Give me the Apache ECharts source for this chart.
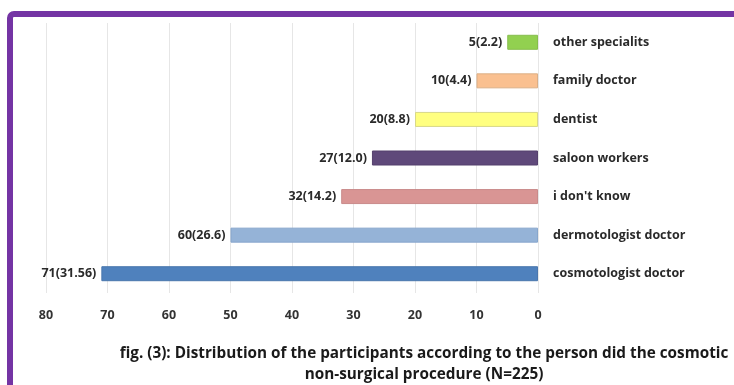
<!DOCTYPE html>
<html>
<head>
<meta charset="utf-8">
<script src="https://cdn.jsdelivr.net/npm/echarts@6/dist/echarts.min.js"></script>
<style>
  html, body { margin: 0; padding: 0; background: #fff; }
  #chart { width: 734px; height: 385px; }
</style>
</head>
<body>
<div id="chart"></div>
<script>
// bottom to top
const categories = ["cosmotologist doctor", "dermotologist doctor", "i don't know", "saloon workers", "dentist", "family doctor", "other specialits"];
const barValues = [71, 50, 32, 27, 20, 10, 5];
const barLabels = ["71(31.56)", "60(26.6)", "32(14.2)", "27(12.0)", "20(8.8)", "10(4.4)", "5(2.2)"];
const barColors = ["#4f81bd", "#95b3d7", "#d99594", "#5f497a", "#ffff80", "#fac090", "#92d050"];
const borderColors = ["#4a76ad", "#87a6cc", "#c98a8a", "#54406d", "#d8d88a", "#dbae85", "#86bd4d"];
const titleLines = [
  "fig. (3): Distribution of the participants according to the person did the cosmotic",
  "non-surgical procedure (N=225)"
];

const chart = echarts.init(document.getElementById("chart"));

const font = "'Open Sans', Lato, sans-serif";

const option = {
  animation: false,
  backgroundColor: "#fff",
  grid: { left: 46, right: 196, top: 23, bottom: 92 },
  title: {
    text: titleLines.join("\n"),
    left: 419,
    textAlign: "center",
    top: 338,
    textStyle: { fontFamily: font, fontSize: 15.3, fontWeight: "bold", color: "#1a1a1a", lineHeight: 21 }
  },
  graphic: [
    {
      type: "rect",
      shape: { x: 10, y: 14, width: 800, height: 500, r: 4 },
      style: { fill: "none", stroke: "#7434a4", lineWidth: 6 },
      z: 10
    }
  ],
  xAxis: {
    type: "value",
    inverse: true,
    min: 0,
    max: 80,
    interval: 10,
    axisLine: { show: false },
    axisTick: { show: false },
    splitLine: { show: true, lineStyle: { color: "#e6e6e6", width: 1 } },
    axisLabel: { margin: 16, fontFamily: font, fontSize: 12.5, fontWeight: "bold", color: "#333" }
  },
  yAxis: {
    type: "category",
    position: "right",
    data: categories,
    axisLine: { show: false },
    axisTick: { show: false },
    splitLine: { show: false },
    axisLabel: { margin: 15, align: "left", fontFamily: font, fontSize: 12.5, fontWeight: "bold", color: "#2a2a2a" }
  },
  series: [
    {
      type: "bar",
      barWidth: 15,
      data: barValues.map((v, i) => ({
        value: v,
        itemStyle: { color: barColors[i], borderColor: borderColors[i], borderWidth: 1 },
        label: { formatter: barLabels[i] }
      })),
      label: {
        show: true,
        position: "left",
        distance: 5,
        fontFamily: font,
        fontSize: 12.5,
        fontWeight: "bold",
        color: "#2a2a2a"
      }
    }
  ]
};

chart.setOption(option);
</script>
</body>
</html>
